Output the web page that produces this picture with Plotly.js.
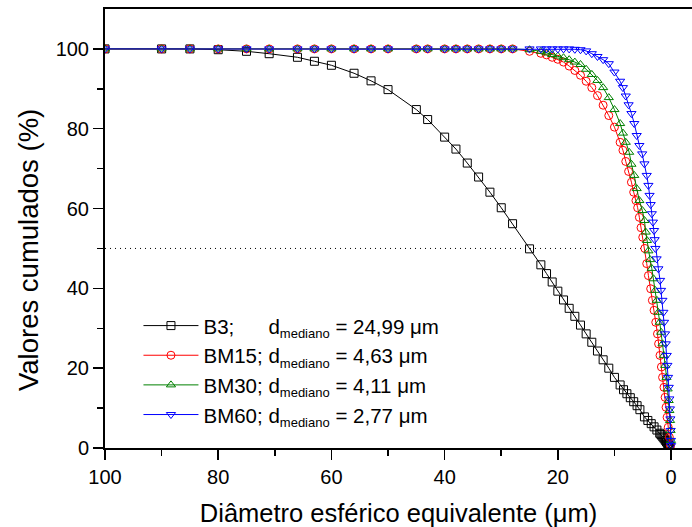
<!DOCTYPE html>
<html>
<head>
<meta charset="utf-8">
<script src="https://cdn.plot.ly/plotly-3.0.1.min.js"></script>
<style>html,body{margin:0;padding:0;background:#fff;}</style>
</head>
<body>
<div id="chart" style="width:692px;height:527px;"></div>
<script>
// ---- data (sizes in µm, cumulative %) ----
var sizesTop = [100, 90, 85, 80, 75, 71, 66, 63, 60, 56, 53, 50, 45, 43, 40, 38, 36, 34, 32, 30, 28, 25];

var b3X = sizesTop.concat([23, 22, 21, 20, 19, 18, 17, 16, 15, 14, 13, 12, 11, 10, 9,
  8.4, 7.8, 7.2, 6.6, 6.0, 5.5, 4.7, 4.1, 3.5, 3.0, 2.5, 2.0, 1.8, 1.6, 1.4, 1.2, 1.0, 0.8, 0.6, 0.5, 0.4, 0.3, 0.2]);
var b3Y = [100, 100, 100, 99.8, 99.4, 98.8, 97.9, 96.9, 95.9, 93.9, 92.0, 89.8,
  84.8, 82.3, 77.9, 74.9, 71.4, 67.9, 64.1, 60.2, 56.2, 49.9,
  45.9, 43.7, 41.6, 39.3, 37.1, 35.0, 33.0, 30.8, 28.6, 26.5, 24.3, 22.1, 20.0, 17.7, 15.8,
  14.6, 13.6, 12.6, 11.6, 10.6, 9.6, 7.8, 6.9, 6.1, 5.3, 4.5, 3.7, 3.4, 3.0, 2.7, 2.3, 1.9, 1.5, 1.1, 0.9, 0.7, 0.5, 0.3];

var bm15X = sizesTop.concat([23, 22, 21, 20, 19, 18, 17, 16, 15, 14, 13, 12, 11, 10, 9,
  8.5, 8, 7.5, 7, 6.6, 6.2, 5.9, 5.6, 5.3, 5.0, 4.63,
  4.3, 4.0, 3.6, 3.3, 3.0, 2.7, 2.4, 2.2, 1.95, 1.7, 1.5, 1.25, 1.05, 0.88, 0.7, 0.5, 0.3, 0.12]);
var bm15Y = [100, 100, 100, 100, 100, 100, 100, 100, 100, 100, 100, 100,
  100, 100, 100, 100, 100, 100, 100, 100, 100, 99.4,
  98.9, 98.5, 97.9, 97.4, 96.7, 95.7, 94.6, 93.4, 91.9, 90.3, 88.3, 85.9, 83.3, 80.4, 76.6,
  74.6, 71.8, 69.3, 66.6, 64.1, 62.0, 60.2, 57.8, 55.2, 52.8, 50.0,
  46.2, 43.2, 39.9, 37.0, 34.5, 31.5, 28.6, 26.1, 23.2, 20.3, 17.7, 15.2, 12.7, 10.2, 7.7, 5.2, 2.7, 0.6];

var bm30X = sizesTop.concat([23, 22, 21, 20, 19, 18, 17, 16, 15, 14, 13, 12, 11, 10, 9,
  8.5, 8, 7.4, 7.0, 6.5, 6.07, 5.6, 5.07, 4.7, 4.47, 4.25, 4.0,
  3.7, 3.4, 3.1, 2.8, 2.5, 2.25, 2.0, 1.75, 1.5, 1.27, 1.03, 0.8, 0.6, 0.42, 0.3, 0.18, 0.08, 0.02]);
var bm30Y = [100, 100, 100, 100, 100, 100, 100, 100, 100, 100, 100, 100,
  100, 100, 100, 100, 100, 100, 100, 100, 100, 99.8,
  99.4, 99.0, 98.6, 98.2, 97.8, 97.3, 96.7, 96.1, 94.9, 93.6, 92.1, 90.3, 87.8, 84.8, 81.3,
  78.9, 76.6, 74.1, 71.1, 68.3, 65.0, 62.0, 59.5, 57.0, 54.1, 52.0, 49.4,
  47.2, 45.0, 42.4, 39.5, 37.0, 34.0, 31.5, 29.0, 26.1, 23.2, 20.7, 17.7, 14.8, 11.9, 9.4, 6.9, 4.4, 1.9];

var bm60X = sizesTop.concat([23, 22, 21, 20, 19, 18, 17, 16, 15, 14, 13, 12, 11, 10, 9,
  8.5, 8, 7.5, 7, 6.5, 6.07, 5.6, 5.1, 4.7, 4.3, 4.0, 3.8, 3.6, 3.4, 3.2, 3.0, 2.9, 2.77,
  2.55, 2.24, 1.94, 1.77, 1.53, 1.36, 1.24, 1.06, 0.94, 0.76, 0.65, 0.53, 0.41, 0.3, 0.2, 0.12, 0.06, 0.02, 0.0]);
var bm60Y = [100, 100, 100, 100, 100, 100, 100, 100, 100, 100, 100, 100,
  100, 100, 100, 100, 100, 100, 100, 100, 100, 100,
  100, 100, 100, 100, 100, 100, 99.9, 99.8, 99.5, 98.8, 98.1, 97.3, 96.3, 94.2, 91.9,
  90.3, 88.2, 86.0, 83.8, 81.3, 78.3, 75.8, 73.7, 71.2, 68.3, 65.8, 63.3, 61.0, 58.7, 56.6, 54.5, 52.2, 50.0,
  47.4, 44.9, 42.0, 39.5, 37.0, 34.0, 31.5, 28.6, 26.1, 23.2, 20.7, 17.7, 15.2, 12.3, 9.8, 7.3, 4.4, 1.9, 0.6];

var medianLineX = [100, 5.1];
var medianLineY = [50, 50];

var seriesNames = [
  'B3;\u00A0\u00A0\u00A0\u00A0\u00A0\u00A0d<sub><span style="font-size:13px">mediano</span></sub> = 24,99 \u03BCm',
  'BM15; d<sub><span style="font-size:13px">mediano</span></sub> = 4,63 \u03BCm',
  'BM30; d<sub><span style="font-size:13px">mediano</span></sub> = 4,11 \u03BCm',
  'BM60; d<sub><span style="font-size:13px">mediano</span></sub> = 2,77 \u03BCm'
];
var xTitle = 'Diâmetro esférico equivalente (\u03BCm)';
var yTitle = 'Valores cumulados (%)';
var xTicks = [0, 20, 40, 60, 80, 100];
var xMinor = [10, 30, 50, 70, 90];
var yTicks = [0, 20, 40, 60, 80, 100];
var yMinor = [10, 30, 50, 70, 90];

// ---- traces ----
function series(x, y, name, color, symbol) {
  return {
    x: x, y: y, name: name, type: 'scatter', mode: 'lines+markers',
    line: {color: color, width: 1},
    marker: {symbol: symbol, size: 8, color: color, line: {color: color, width: 1}}
  };
}
var traces = [
  {x: medianLineX, y: medianLineY, type: 'scatter', mode: 'lines', showlegend: false,
   line: {color: 'black', width: 1, dash: '1px,4px'}, hoverinfo: 'skip'},
  series(b3X, b3Y, seriesNames[0], '#000000', 'square-open'),
  series(bm15X, bm15Y, seriesNames[1], '#FF0000', 'circle-open'),
  series(bm30X, bm30Y, seriesNames[2], '#008000', 'triangle-up-open'),
  series(bm60X, bm60Y, seriesNames[3], '#0000FF', 'triangle-down-open')
];

var fontFam = 'Arial, "Liberation Sans", sans-serif';
var layout = {
  width: 692, height: 527,
  margin: {l: 105, r: 0, t: 9, b: 79, pad: 0},
  paper_bgcolor: '#ffffff', plot_bgcolor: '#ffffff',
  font: {family: fontFam, color: '#000000'},
  showlegend: true,
  legend: {x: 0.057, y: 0.324, xanchor: 'left', yanchor: 'top', bgcolor: 'rgba(0,0,0,0)',
           borderwidth: 0, font: {size: 20.5, family: fontFam, color: '#000'}, itemwidth: 55,
           tracegroupgap: 0},
  xaxis: {
    range: [100, -3.7], tickmode: 'array', tickvals: xTicks, ticktext: xTicks.map(String),
    ticks: 'outside', ticklen: 10, tickwidth: 1.5, tickcolor: '#000',
    showline: true, linewidth: 2, linecolor: '#000', mirror: true,
    showgrid: false, zeroline: false, tickfont: {size: 20},
    minor: {tickmode: 'array', tickvals: xMinor, ticks: 'outside', ticklen: 6, tickwidth: 1.5, tickcolor: '#000', showgrid: false},
    title: {text: xTitle, font: {size: 25.5}, standoff: 25},
    automargin: false
  },
  yaxis: {
    range: [0, 110], tickmode: 'array', tickvals: yTicks, ticktext: yTicks.map(String),
    ticks: 'outside', ticklen: 10, tickwidth: 1.5, tickcolor: '#000',
    showline: true, linewidth: 2, linecolor: '#000', mirror: false,
    showgrid: false, zeroline: false, tickfont: {size: 20},
    minor: {tickmode: 'array', tickvals: yMinor, ticks: 'outside', ticklen: 6, tickwidth: 1.5, tickcolor: '#000', showgrid: false},
    automargin: false
  },
  annotations: [{
    text: yTitle, xref: 'paper', yref: 'paper', x: -0.1312, y: 0.451,
    xanchor: 'center', yanchor: 'middle', textangle: -90, showarrow: false,
    font: {size: 27.5, family: fontFam, color: '#000'}
  }]
};

Plotly.newPlot('chart', traces, layout, {staticPlot: true, displayModeBar: false});
</script>
</body>
</html>
